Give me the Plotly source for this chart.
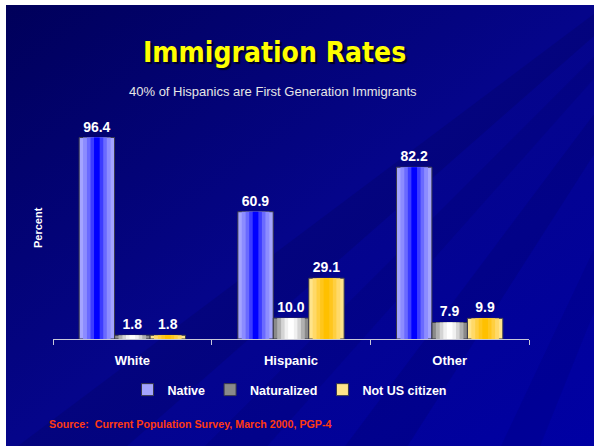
import base64
import plotly.graph_objects as go

categories = ["White", "Hispanic", "Other"]
native = [96.4, 60.9, 82.2]
naturalized = [1.8, 10.0, 7.9]
not_citizen = [1.8, 29.1, 9.9]

series = [
    ("Native", native, -0.2235, ["#a4a4ff", "#8c8cff", "#6a6aff", "#3c3cff", "#0000ff"]),
    ("Naturalized", naturalized, 0.0, ["#8a8a8a", "#b0b0b0", "#d4d4d4", "#f0f0f0", "#ffffff"]),
    ("Not US citizen", not_citizen, 0.2235, ["#ffe48a", "#ffd968", "#ffcf40", "#ffc61c", "#ffc000"]),
]
BW = 0.223
layer_w = [1.0, 0.78, 0.56, 0.36, 0.16]

W, H = 588, 441
L, R, T, B = 47, 65, 125, 107
PW, PH = W - L - R, H - T - B

def px(x):
    return (x - 53) / PW

def py(y):
    return (339 - y) / PH

fig = go.Figure()
for name, vals, center, cols in series:
    for i, (fw, col) in enumerate(zip(layer_w, cols)):
        w = BW * fw
        outer = i == 0
        fig.add_trace(go.Bar(
            x=categories, y=vals, name=f"<b>{name}</b>",
            width=w, offset=center - w / 2,
            marker=dict(color=col, line=dict(color="#3a3a4a" if outer else col, width=1 if outer else 0)),
            text=[f"<b>{v:.1f}</b>" for v in vals] if outer else None,
            textposition="outside" if outer else "none",
            textfont=dict(family="Liberation Sans", size=14, color="white"),
            cliponaxis=False,
            showlegend=outer,
            hoverinfo="skip" if not outer else None,
        ))

# background: dark-blue gradient with faint diagonal rays
rays = ""
for (a, b, op) in [(-200, -60, 0.18), (40, 120, 0.12), (220, 300, 0.15), (420, 470, 0.10)]:
    rays += f'<polygon points="760,-120 {a},600 {b},600" fill="#000040" fill-opacity="{op}"/>'
svg = (f'<svg xmlns="http://www.w3.org/2000/svg" width="{W}" height="{H}" viewBox="0 0 {W} {H}" preserveAspectRatio="none">'
       '<defs><linearGradient id="g" x1="0" y1="0" x2="1" y2="1">'
       '<stop offset="0" stop-color="#00005a"/><stop offset="0.5" stop-color="#05058a"/>'
       '<stop offset="1" stop-color="#0000a4"/></linearGradient></defs>'
       f'<rect width="{W}" height="{H}" fill="url(#g)"/>{rays}</svg>')
bg = "data:image/svg+xml;base64," + base64.b64encode(svg.encode()).decode()

TITLE_FONT = "Liberation Sans Narrow, DejaVu Sans Condensed, Roboto Condensed, Arial Narrow, sans-serif"
ann = [
    dict(text="Immigration Rates", x=px(274), y=py(53), xref="paper", yref="paper",
         xanchor="center", yanchor="middle", showarrow=False,
         font=dict(family=TITLE_FONT, size=28, color="#ffff00", weight="bold", shadow="2px 2px 1px #000022")),
    dict(text="40% of Hispanics are First Generation Immigrants", x=px(273), y=py(91),
         xref="paper", yref="paper", xanchor="center", yanchor="middle", showarrow=False,
         font=dict(family="Liberation Sans", size=13, color="#e6e6e6")),
    dict(text="<b>Percent</b>", x=px(38), y=py(228), xref="paper", yref="paper",
         xanchor="center", yanchor="middle", showarrow=False, textangle=-90,
         font=dict(family="Liberation Sans", size=11, color="white")),
    dict(text="<b>Source:  Current Population Survey, March 2000, PGP-4</b>", x=px(47), y=py(424),
         xref="paper", yref="paper", xanchor="left", yanchor="middle", showarrow=False,
         font=dict(family="Liberation Sans", size=10.7, color="#ff3a10")),
]

fig.update_layout(
    width=W, height=H,
    margin=dict(l=L, r=R, t=T, b=B),
    paper_bgcolor="#05058c", plot_bgcolor="rgba(0,0,0,0)",
    barmode="overlay",
    annotations=ann,
    images=[dict(source=bg, xref="paper", yref="paper", x=-L / PW, y=1 + T / PH,
                 sizex=W / PW, sizey=H / PH, xanchor="left", yanchor="top",
                 sizing="stretch", layer="below")],
    showlegend=True,
    legend=dict(orientation="h", x=px(290), xanchor="center", y=py(390), yanchor="middle",
                font=dict(family="Liberation Sans", size=12.5, color="white"), bgcolor="rgba(0,0,0,0)",
                itemwidth=30, tracegroupgap=0),
    xaxis=dict(showline=True, linecolor="#c8c8d8", linewidth=1, ticks="outside", tickson="boundaries",
               ticklen=5, tickcolor="#c8c8d8", showgrid=False, ticklabelstandoff=9,
               tickfont=dict(family="Liberation Sans", size=13, color="white"),
               tickprefix="<b>", ticksuffix="</b>"),
    yaxis=dict(range=[0, 100], visible=False),
)
fig.write_html("out.html", config={"displayModeBar": False},
               post_script="document.body.style.margin='5px 0 0 6px';document.body.style.background='#ffffff';")
